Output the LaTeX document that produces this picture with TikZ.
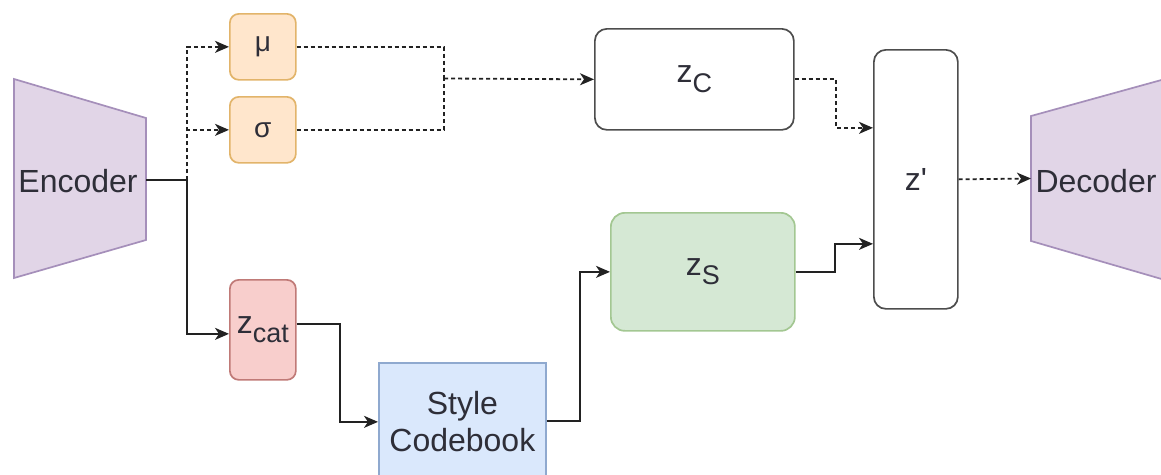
\documentclass[tikz,border=0pt]{standalone}
\usepackage{fontspec}
\setmainfont{Liberation Sans}
\usetikzlibrary{arrows.meta,calc}
\definecolor{txt}{HTML}{2E2E38}
\definecolor{ln}{HTML}{222222}
\definecolor{purF}{HTML}{E1D5E7}\definecolor{purD}{HTML}{A58FBA}
\definecolor{orF}{HTML}{FFE6CC}\definecolor{orD}{HTML}{E2B46A}
\definecolor{redF}{HTML}{F8CECC}\definecolor{redD}{HTML}{C07A77}
\definecolor{bluF}{HTML}{DAE8FC}\definecolor{bluD}{HTML}{8FA9CF}
\definecolor{grnF}{HTML}{D5E8D4}\definecolor{grnD}{HTML}{A3C792}
\definecolor{boxD}{HTML}{4D4D4D}
\newcommand\bigtxt{\fontsize{32}{37}\selectfont}
\newcommand\zwith[1]{z\raisebox{-0.3em}{\fontsize{27}{27}\selectfont #1}}
\begin{document}
\begin{tikzpicture}[x=1pt,y=-1pt,
  box/.style={draw, line width=1.7pt, anchor=north west, inner sep=0pt,
    text=txt, font=\bigtxt, align=center},
  rbox/.style={box, rounded corners=9pt},
  conn/.style={draw=ln, line width=1.8pt, -{Stealth[length=14pt,width=12pt,inset=4pt]}},
  dconn/.style={conn, dash pattern=on 4pt off 3pt},
  dline/.style={draw=ln, line width=1.8pt, dash pattern=on 4pt off 3pt},
  lbl/.style={text=txt, font=\bigtxt, inner sep=0pt}]
\useasboundingbox (0,0) rectangle (1161,474);
\clip (0,0) rectangle (1161,474);
% encoder / decoder trapezoids
\draw[fill=purF, draw=purD, line width=1.7pt] (14,79) -- (146,118) -- (146,240) -- (14,278) -- cycle;
\node[lbl] (enc) at (78,181) {Encoder};
\draw[fill=purF, draw=purD, line width=1.7pt] (1031,116) -- (1165,79) -- (1165,280) -- (1031,241) -- cycle;
\node[lbl] (dec) at (1096,181) {Decoder};
% boxes
\node[rbox, fill=orF, draw=orD, minimum width=66pt, minimum height=66pt, font=\fontsize{28}{30}\selectfont] (mu) at (229,13) {μ};
\node[rbox, fill=orF, draw=orD, minimum width=66pt, minimum height=66pt, font=\fontsize{28}{30}\selectfont] (sig) at (229,96) {σ};
\node[rbox, fill=redF, draw=redD, minimum width=66pt, minimum height=100pt] (zcat) at (229,279) {\zwith{cat}};
\node[box, fill=bluF, draw=bluD, minimum width=167pt, minimum height=118pt] (cb) at (378,362) {Style\\Codebook};
\node[rbox, rounded corners=12pt, fill=white, draw=boxD, minimum width=199pt, minimum height=101pt] (zc) at (594,28) {\zwith{C}};
\node[rbox, rounded corners=14pt, fill=grnF, draw=grnD, minimum width=184pt, minimum height=118pt] (zs) at (610,212) {\zwith{S}};
\node[rbox, rounded corners=12pt, fill=white, draw=boxD, minimum width=84pt, minimum height=259pt] (zp) at (873,49) {z\textquotesingle};
% connector coordinates
\coordinate (encout) at (146,180);
\coordinate (split) at (187,180);
\coordinate (merge) at (444,78.5);
\coordinate (decin) at (1031,178.5);
% connectors
\draw[conn] (encout) -- (split) |- ([yshift=-4pt]zcat.west);
\draw[dconn] (split) |- (mu.west);
\draw[dconn] (split) |- (sig.west);
\draw[dline] (mu.east) -| (merge);
\draw[dline] (sig.east) -| (merge);
\draw[dconn] (merge) -- (zc.west);
\draw[dconn] (zc.east) -- ++(41,0) |- ([yshift=51.5pt]zp.west);
\draw[conn] ([yshift=6pt]zcat.east) -- ++(43,0) |- (cb.west);
\draw[conn] ([yshift=1pt]cb.east) -- ++(33,0) |- (zs.west);
\draw[conn] (zs.east) -- ++(39,0) |- ([yshift=-64.5pt]zp.west);
\draw[dconn] (zp.east) -- (decin);
\end{tikzpicture}
\end{document}
